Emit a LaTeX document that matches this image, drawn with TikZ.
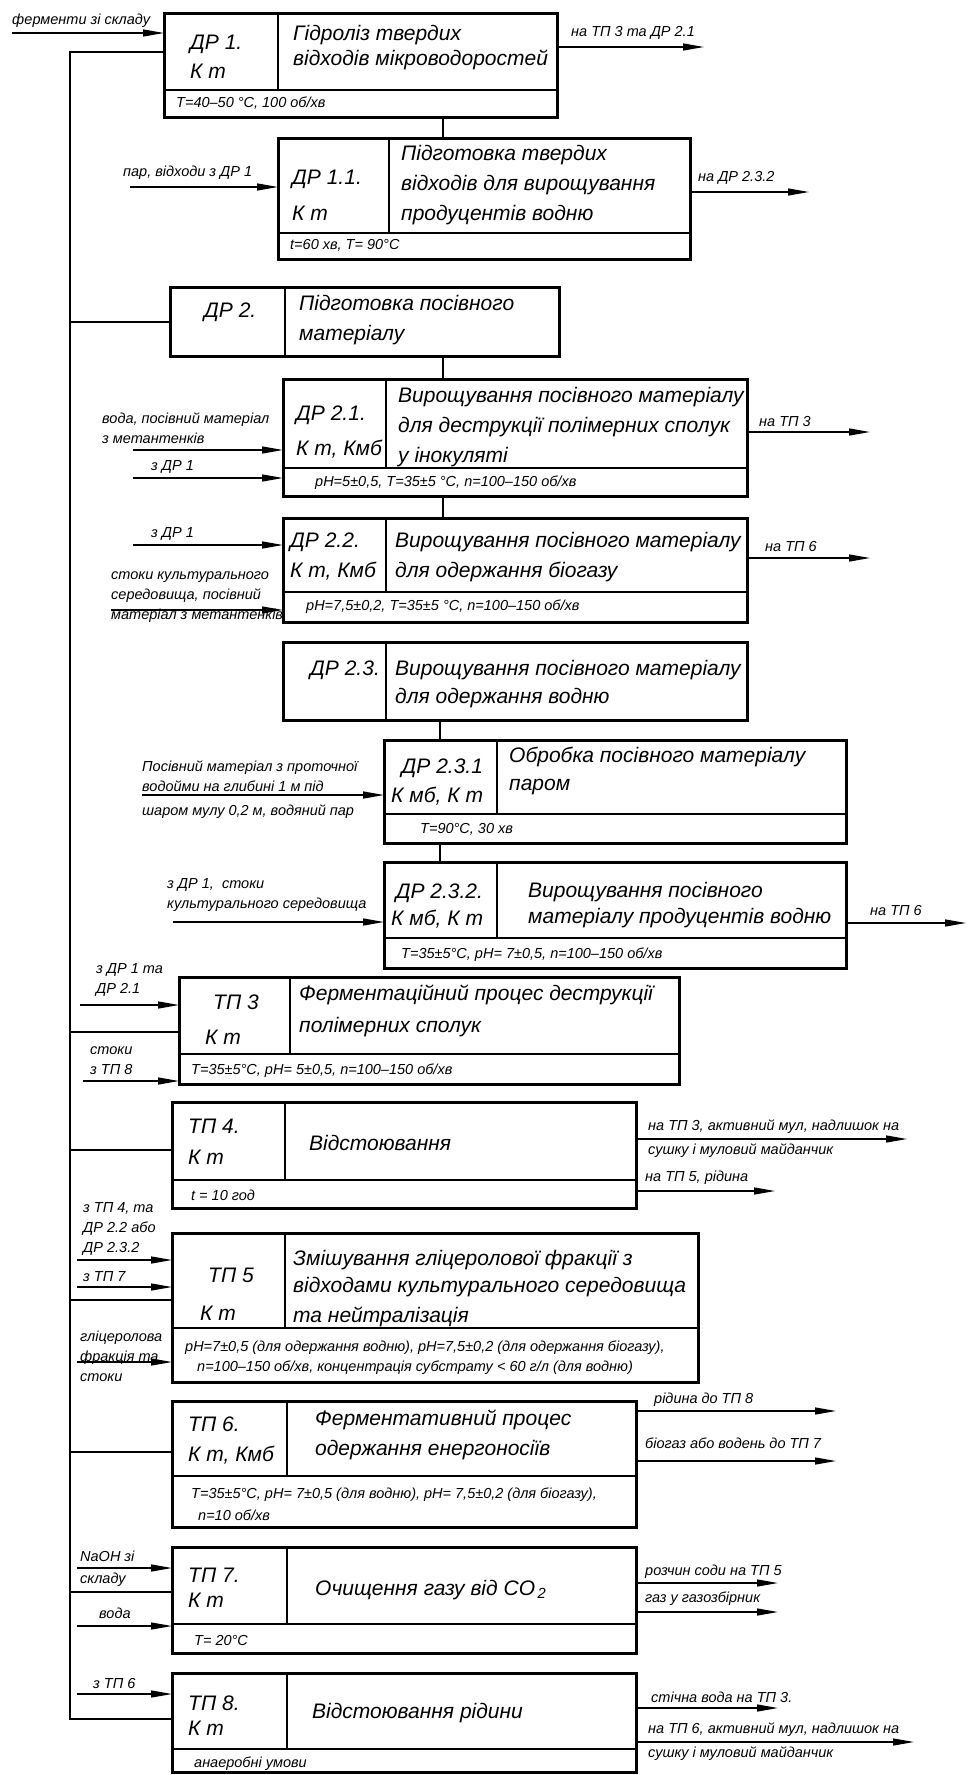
\documentclass[tikz,border=0pt]{standalone}
\usepackage{fontspec}
\setmainfont{Liberation Sans}
\usetikzlibrary{arrows.meta}
\newcommand\mkbox[7]{%
  \node[proc,minimum width={(#4-#2)*1pt},minimum height={(#5-#3)*1pt}] (#1) at (#2,#3) {};
  \draw[div] (#6,#3) -- (#6,#7);
  \draw[div] (#2,#7) -- (#4,#7);
}
\begin{document}
\begin{tikzpicture}[x=1pt,y=-1pt,
  proc/.style={draw,line width=3pt,inner sep=0pt,outer sep=0pt,anchor=north west},
  div/.style={line width=2.6pt},
  conn/.style={line width=2.6pt},
  arr/.style={line width=1.3pt,-{Triangle[length=21pt,width=7pt]}},
  lab/.style={font=\fontsize{14.5}{20}\selectfont\itshape,inner sep=0pt,anchor=west,align=left},
  mt/.style={font=\fontsize{21}{29}\selectfont\itshape,inner sep=0pt,anchor=west,align=left},
  pt/.style={font=\fontsize{14.5}{20}\selectfont\itshape,inner sep=0pt,anchor=west,align=left},
]
\useasboundingbox (0,0) rectangle (967,1775);

% ---------- boxes ----------
\mkbox{dr1}{164}{13}{557}{117}{278}{90}
\mkbox{dr11}{278}{138}{690}{259}{389}{233}
\mkbox{dr2}{170}{287}{559}{356}{285}{356}
\mkbox{dr21}{283}{379}{747}{496}{386}{468}
\mkbox{dr22}{283}{518}{747}{622}{386}{592}
\mkbox{dr23}{283}{642}{747}{720}{386}{720}
\mkbox{dr231}{384}{740}{846}{843}{497}{814}
\mkbox{dr232}{384}{862}{846}{968}{497}{938}
\mkbox{tp3}{179}{977}{679}{1084}{290}{1054}
\mkbox{tp4}{172}{1102}{636}{1208}{285}{1180}
\mkbox{tp5}{172}{1233}{698}{1382}{285}{1328}
\mkbox{tp6}{172}{1401}{636}{1527}{287}{1476}
\mkbox{tp7}{172}{1547}{636}{1653}{287}{1624}
\mkbox{tp8}{172}{1673}{636}{1772}{287}{1749}

% ---------- box texts ----------
\node[mt] (k1) at (190,57) {ДР 1.\\К т};
\node[mt] (t1) at (293,48) {Гідроліз твердих\\[-4pt]відходів мікроводоростей};
\node[pt] (p1) at (176,103) {Т=40–50 °С, 100 об/хв};

\node[mt] (k11) at (292,195) {ДР 1.1.\\[7pt]К т};
\node[mt] (t11) at (401,185) {Підготовка твердих\\[1pt]відходів для вирощування\\[1pt]продуцентів водню};
\node[pt] (p11) at (290,245) {t=60 хв, T= 90°C};

\node[mt] (k2) at (204,312) {ДР 2.};
\node[mt] (t2) at (299,320) {Підготовка посівного\\[1pt]матеріалу};

\node[mt] (k21) at (296,432) {ДР 2.1.\\[6pt]К т, Кмб};
\node[mt] (t21) at (398,427) {Вирощування посівного матеріалу\\[1pt]для деструкції полімерних сполук\\[1pt]у інокуляті};
\node[pt] (p21) at (315,483) {pH=5±0,5, T=35±5 °C, n=100–150 об/хв};

\node[mt] (k22) at (290,557) {ДР 2.2.\\[1pt]К т, Кмб};
\node[mt] (t22) at (395,557) {Вирощування посівного матеріалу\\[1pt]для одержання біогазу};
\node[pt] (p22) at (306,607) {pH=7,5±0,2, T=35±5 °C, n=100–150 об/хв};

\node[mt] (k23) at (310,670) {ДР 2.3.};
\node[mt] (t23) at (395,684) {Вирощування посівного матеріалу\\[-1pt]для одержання водню};

\node[mt,align=right] (k231) at (391,782) {ДР 2.3.1\\К мб, К т};
\node[mt] (t231) at (509,771) {Обробка посівного матеріалу\\[-1pt]паром};
\node[pt] (p231) at (420,829) {T=90°C, 30 хв};

\node[mt,align=right] (k232) at (391,906) {ДР 2.3.2.\\[-2pt]К мб, К т};
\node[mt] (t232) at (528,905) {Вирощування посівного\\[-3pt]матеріалу продуцентів водню};
\node[pt] (p232) at (401,955) {T=35±5°C, pH= 7±0,5, n=100–150 об/хв};

\node[mt] (k3) at (205,1020) {\hspace*{8pt}ТП 3\\[6pt]К т};
\node[mt] (t3) at (299,1011) {Ферментаційний процес деструкції\\[3pt]полімерних сполук};
\node[pt] (p3) at (191,1071) {T=35±5°C, pH= 5±0,5, n=100–150 об/хв};

\node[mt] (k4) at (188,1142) {ТП 4.\\[2pt]К т};
\node[mt] (t4) at (309,1143) {Відстоювання};
\node[pt] (p4) at (191,1195) {t = 10 год};

\node[mt] (k5) at (200,1294) {\hspace*{8pt}ТП 5\\[9pt]К т};
\node[mt] (t5) at (293,1289) {Змішування гліцеролової фракції з\\[-2pt]відходами культурального середовища\\[1pt]та нейтралізація};
\node[pt] (p5) at (185,1358) {pH=7±0,5 (для одержання водню), pH=7,5±0,2 (для одержання біогазу),\\\hspace*{12pt}n=100–150 об/хв, концентрація субстрату < 60 г/л (для водню)};

\node[mt] (k6) at (188,1440) {ТП 6.\\[1pt]К т, Кмб};
\node[mt] (t6) at (315,1435) {Ферментативний процес\\[1pt]одержання енергоносіїв};
\node[pt] (p6) at (191,1504) {T=35±5°C, pH= 7±0,5 (для водню), pH= 7,5±0,2 (для біогазу),\\[2pt]\hspace*{7pt}n=10 об/хв};

\node[mt] (k7) at (188,1588) {ТП 7.\\[-4pt]К т};
\node[mt] (t7) at (315,1590) {Очищення газу від CO\textsubscript{\,2}};
\node[pt] (p7) at (194,1640) {T= 20°C};

\node[mt] (k8) at (188,1716) {ТП 8.\\[-4pt]К т};
\node[mt] (t8) at (312,1713) {Відстоювання рідини};
\node[pt] (p8) at (194,1764) {анаеробні умови};

% ---------- bus ----------
\coordinate (b1) at (70,52);
\coordinate (b2) at (70,322);
\coordinate (b3) at (70,1032);
\coordinate (b4) at (70,1150);
\coordinate (b5) at (70,1300);
\coordinate (b6) at (70,1452);
\coordinate (b7) at (70,1592);
\coordinate (b8) at (70,1719);
\draw[conn] (b1 -| dr1.west) -- (b1) -- (b8) -- (b8 -| tp8.west);
\draw[conn] (b2) -- (b2 -| dr2.west);
\draw[conn] (b3) -- (b3 -| tp3.west);
\draw[conn] (b4) -- (b4 -| tp4.west);
\draw[conn] (b5) -- (b5 -| tp5.west);
\draw[conn] (b6) -- (b6 -| tp6.west);
\draw[conn] (b7) -- (b7 -| tp7.west);

% ---------- vertical connectors ----------
\coordinate (v1) at (443,0);
\coordinate (v2) at (440,0);
\draw[conn] (v1 |- dr1.south) -- (v1 |- dr11.north);
\draw[conn] (v1 |- dr2.south) -- (v1 |- dr21.north);
\draw[conn] (v1 |- dr21.south) -- (v1 |- dr22.north);
\draw[conn] (v2 |- dr23.south) -- (v2 |- dr231.north);
\draw[conn] (v2 |- dr231.south) -- (v2 |- dr232.north);

% ---------- input arrows ----------
\coordinate (i1) at (12,33);   \draw[arr] (i1) -- (i1 -| dr1.west);
\node[lab] (li1) at (12,21) {ферменти зі складу};
\coordinate (i2) at (130,187); \draw[arr] (i2) -- (i2 -| dr11.west);
\node[lab] (li2) at (123,173) {пар, відходи з ДР 1};
\coordinate (i3) at (133,450); \draw[arr] (i3) -- (i3 -| dr21.west);
\node[lab] (li3) at (102,428) {вода, посівний матеріал\\з метантенків};
\coordinate (i4) at (133,478); \draw[arr] (i4) -- (i4 -| dr21.west);
\node[lab] (li4) at (151,467) {з ДР 1};
\coordinate (i5) at (133,545); \draw[arr] (i5) -- (i5 -| dr22.west);
\node[lab] (li5) at (151,534) {з ДР 1};
\coordinate (i6) at (111,610); \draw[arr] (i6) -- (i6 -| dr22.west);
\node[lab] (li6) at (111,597) {стоки культурального\\середовища, посівний\\матеріал з метантенків};
\coordinate (i7) at (142,795); \draw[arr] (i7) -- (i7 -| dr231.west);
\node[lab] (li7) at (142,776) {Посівний матеріал з проточної\\водойми на глибині 1 м під};
\node[lab] (li7b) at (142,812) {шаром мулу 0,2 м, водяний пар};
\coordinate (i8) at (173,922); \draw[arr] (i8) -- (i8 -| dr232.west);
\node[lab] (li8) at (167,895) {з ДР 1, \ стоки\\культурального середовища};
\coordinate (i9) at (80,1005); \draw[arr] (i9) -- (i9 -| tp3.west);
\node[lab] (li9) at (96,980) {з ДР 1 та\\ДР 2.1};
\coordinate (i10) at (83,1081); \draw[arr] (i10) -- (i10 -| tp3.west);
\node[lab] (li10) at (90,1061) {стоки\\з ТП 8};
\coordinate (i11) at (77,1260); \draw[arr] (i11) -- (i11 -| tp5.west);
\node[lab] (li11) at (83,1229) {з ТП 4, та\\ДР 2.2 або\\ДР 2.3.2};
\coordinate (i12) at (77,1287); \draw[arr] (i12) -- (i12 -| tp5.west);
\node[lab] (li12) at (83,1277) {з ТП 7};
\coordinate (i13) at (77,1362); \draw[arr] (i13) -- (i13 -| tp5.west);
\node[lab] (li13) at (80,1356) {гліцеролова\\фракція та\\стоки};
\coordinate (i14) at (77,1568); \draw[arr] (i14) -- (i14 -| tp7.west);
\node[lab] (li14) at (80,1556) {NaOH зі};
\node[lab] (li14b) at (80,1580) {складу};
\coordinate (i15) at (77,1626); \draw[arr] (i15) -- (i15 -| tp7.west);
\node[lab] (li15) at (99,1613) {вода};
\coordinate (i16) at (77,1694); \draw[arr] (i16) -- (i16 -| tp8.west);
\node[lab] (li16) at (93,1683) {з ТП 6};

% ---------- output arrows ----------
\coordinate (o1) at (704,47);   \draw[arr] (o1 -| dr1.east) -- (o1);
\node[lab] (lo1) at (571,33) {на ТП 3 та ДР 2.1};
\coordinate (o2) at (809,192);  \draw[arr] (o2 -| dr11.east) -- (o2);
\node[lab] (lo2) at (698,178) {на ДР 2.3.2};
\coordinate (o3) at (870,432);  \draw[arr] (o3 -| dr21.east) -- (o3);
\node[lab] (lo3) at (759,422) {на ТП 3};
\coordinate (o4) at (870,558);  \draw[arr] (o4 -| dr22.east) -- (o4);
\node[lab] (lo4) at (765,547) {на ТП 6};
\coordinate (o5) at (966,923);  \draw[arr] (o5 -| dr232.east) -- (o5);
\node[lab] (lo5) at (870,910) {на ТП 6};
\coordinate (o6) at (907,1139); \draw[arr] (o6 -| tp4.east) -- (o6);
\node[lab] (lo6) at (648,1127) {на ТП 3, активний мул, надлишок на};
\node[lab] (lo6b) at (648,1151) {сушку і муловий майданчик};
\coordinate (o7) at (775,1191); \draw[arr] (o7 -| tp4.east) -- (o7);
\node[lab] (lo7) at (645,1178) {на ТП 5, рідина};
\coordinate (o8) at (836,1411); \draw[arr] (o8 -| tp6.east) -- (o8);
\node[lab] (lo8) at (654,1400) {рідина до ТП 8};
\coordinate (o9) at (836,1461); \draw[arr] (o9 -| tp6.east) -- (o9);
\node[lab] (lo9) at (645,1443) {біогаз або водень до ТП 7};
\coordinate (o10) at (778,1583); \draw[arr] (o10 -| tp7.east) -- (o10);
\node[lab] (lo10) at (645,1572) {розчин соди на ТП 5};
\coordinate (o11) at (778,1612); \draw[arr] (o11 -| tp7.east) -- (o11);
\node[lab] (lo11) at (645,1599) {газ у газозбірник};
\coordinate (o12) at (778,1708); \draw[arr] (o12 -| tp8.east) -- (o12);
\node[lab] (lo12) at (651,1697) {стічна вода на ТП 3.};
\coordinate (o13) at (914,1742); \draw[arr] (o13 -| tp8.east) -- (o13);
\node[lab] (lo13) at (648,1730) {на ТП 6, активний мул, надлишок на};
\node[lab] (lo13b) at (648,1754) {сушку і муловий майданчик};
\end{tikzpicture}
\end{document}
